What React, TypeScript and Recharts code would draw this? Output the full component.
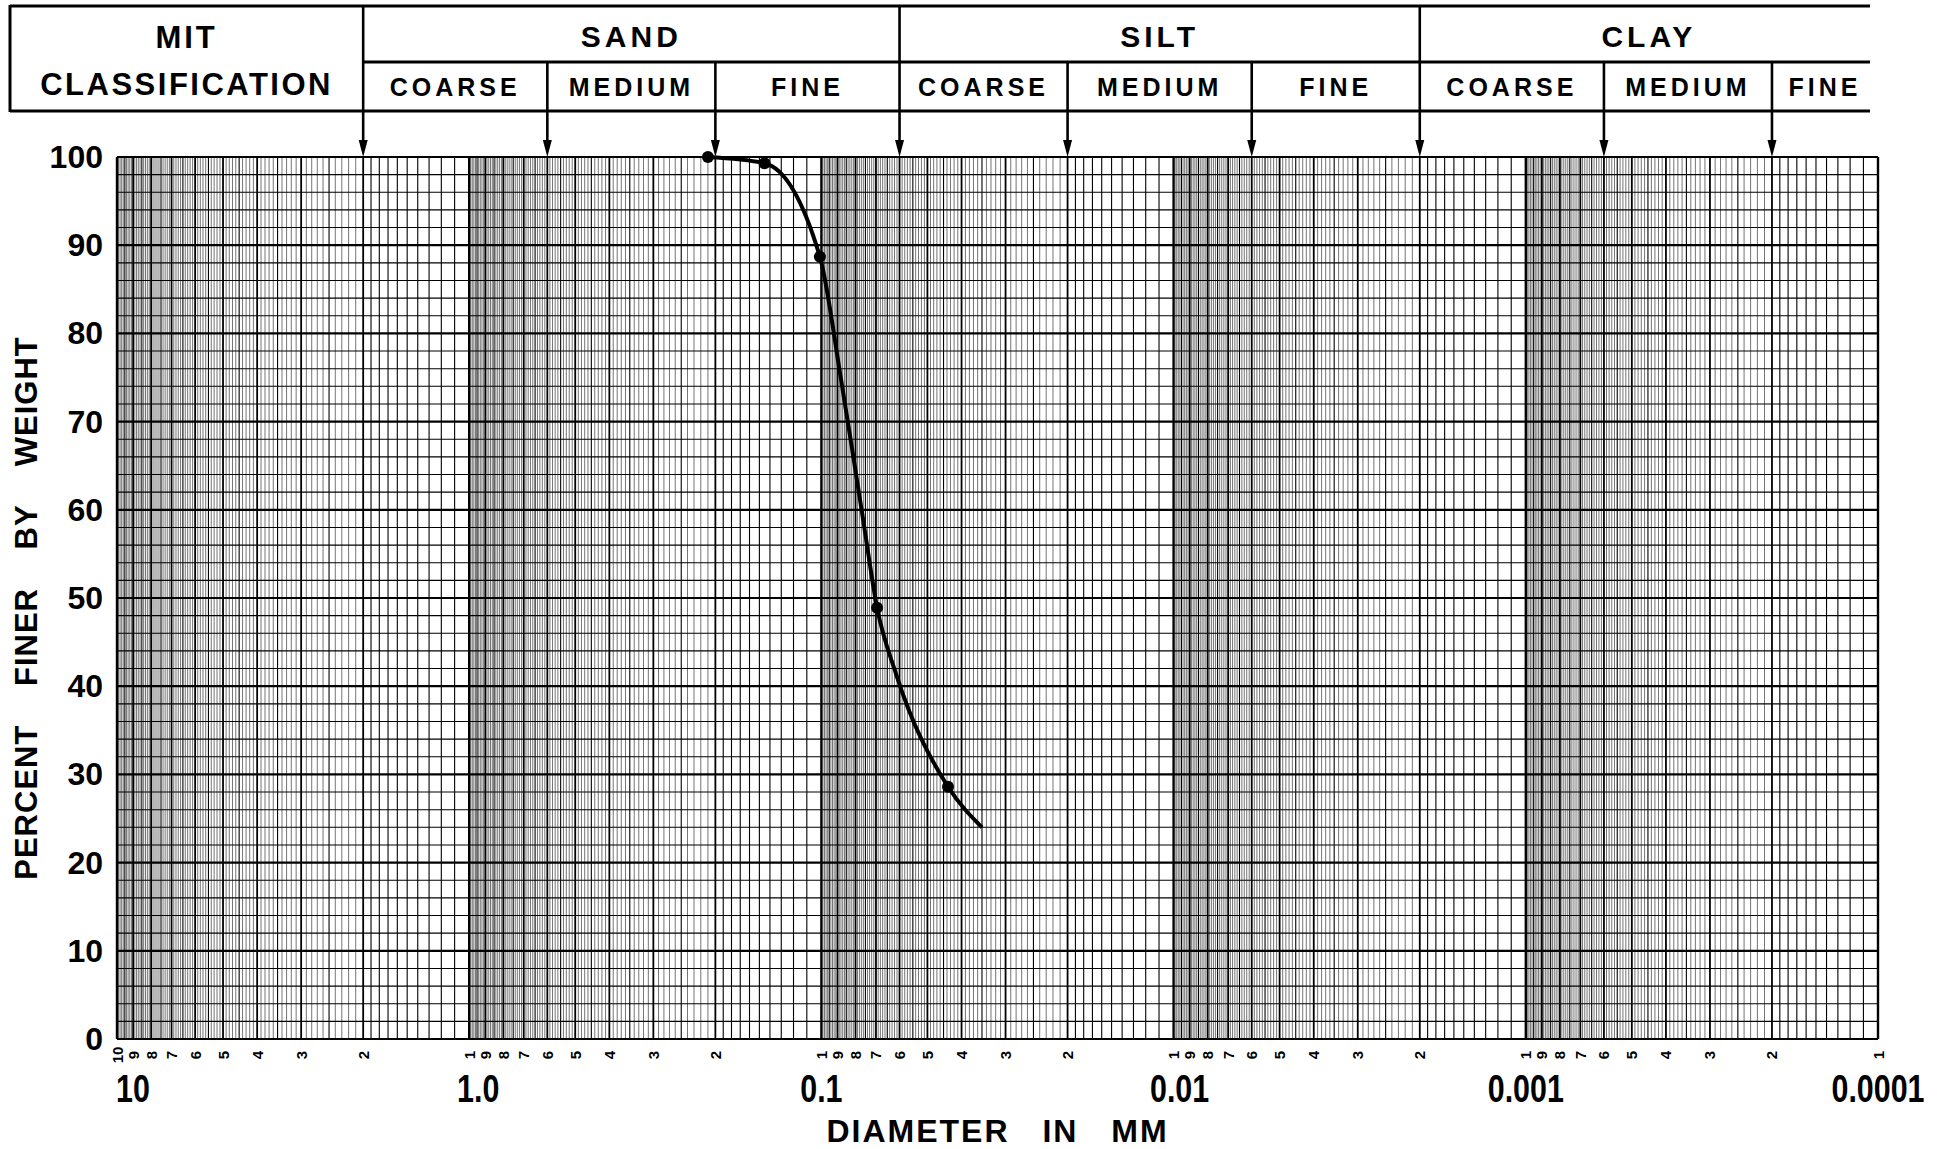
import React from "react";
import { LineChart, Line, XAxis, YAxis, ReferenceLine, ReferenceArea } from "recharts";

// grain size curve: diameter (mm) vs percent finer
const diameters = [0.21, 0.145, 0.101, 0.0886, 0.0813, 0.0762, 0.0695, 0.0614, 0.0437, 0.035];
const percentFiner = [100, 99.3, 88.7, 75.6, 66.2, 59.0, 48.9, 41.4, 28.6, 24.0];
// which readings are plotted sample points (drawn as dots)
const sampleMarks = [true, true, true, false, false, false, true, false, true, false];

const decades = [10, 1, 0.1, 0.01, 0.001, 0.0001];
const decadeLabels = ["10", "1.0", "0.1", "0.01", "0.001", "0.0001"];
const cycleDigits = [9, 8, 7, 6, 5, 4, 3, 2];
const percentTicks = [0, 10, 20, 30, 40, 50, 60, 70, 80, 90, 100];

// MIT classification boundaries (mm)
const soilNames = ["SAND", "SILT", "CLAY"];
const soilEdges = [2, 0.06, 0.002, 0.0001];
const gradeNames = ["COARSE", "MEDIUM", "FINE"];
const gradeEdges = [2, 0.6, 0.2, 0.06, 0.02, 0.006, 0.002, 0.0006, 0.0002, 0.0001];
const majorBounds = [2, 0.06, 0.002];
const minorBounds = [0.6, 0.2, 0.02, 0.006, 0.0006, 0.0002];

const FONT = "'Liberation Sans', Arial, sans-serif";
// hand lettering sits a little off-centre on the first decades
const decadeLabelShift = [16, 9, 0, 6, 0, 0];

const data = diameters.map((d, i) => ({ d, p: percentFiner[i] }));

// tick positions along the bottom: each decade plus its 9..2 subdivisions
const xTicks: number[] = [];
const xTickText: string[] = [];
const xTickDecade: number[] = [];
decades.forEach((dec, di) => {
  xTicks.push(dec);
  xTickText.push(dec === 10 ? "10" : "1");
  xTickDecade.push(di);
  if (di < decades.length - 1) {
    cycleDigits.forEach((m) => {
      xTicks.push((m * dec) / 10);
      xTickText.push(String(m));
      xTickDecade.push(-1);
    });
  }
});

// log paper ruling
type Rule = { v: number; w: number; c: string };
const vRules: Rule[] = [];
decades.slice(1).forEach((base) => {
  for (let j = 10; j < 100; j++) {
    const v = (j * base) / 10;
    let w = 0.7;
    let c = "#3a3a3a";
    if (j === 10) { w = 2.4; c = "#000"; }
    else if (j % 10 === 0) { w = 1.8; c = "#000"; }
    else if (j < 20 || j % 5 === 0) { w = 1.1; c = "#000"; }
    vRules.push({ v, w, c });
  }
});
vRules.push({ v: 10, w: 2.4, c: "#000" });

const hRules: Rule[] = [];
for (let p = 0; p <= 100; p += 2) {
  hRules.push({ v: p, w: p % 10 === 0 ? 2.2 : 1.1, c: "#000" });
}

function findTick(v: number) {
  return xTicks.findIndex((t) => Math.abs(t - v) / t < 1e-6);
}

function XTick(props: any) {
  const { x, y, payload } = props;
  const i = findTick(payload.value);
  if (i < 0) return null;
  const sy = y + 16;
  const di = xTickDecade[i];
  return (
    <g>
      <text
        x={x}
        y={sy}
        transform={`rotate(-90 ${x} ${sy})`}
        textAnchor="middle"
        dominantBaseline="central"
        fontSize={15}
        fontWeight="bold"
        fontFamily={FONT}
        fill="#000"
      >
        {xTickText[i]}
      </text>
      {di >= 0 && (
        <text
          transform={`translate(${x + decadeLabelShift[di]} ${y + 49}) scale(0.78 1)`}
          textAnchor="middle"
          dominantBaseline="central"
          fontSize={39}
          fontWeight="bold"
          fontFamily={FONT}
          fill="#000"
        >
          {decadeLabels[di]}
        </text>
      )}
    </g>
  );
}

function YTick(props: any) {
  const { x, y, payload } = props;
  return (
    <text
      x={x - 14}
      y={y}
      textAnchor="end"
      dominantBaseline="central"
      fontSize={32}
      fontWeight="bold"
      fontFamily={FONT}
      fill="#000"
    >
      {payload.value}
    </text>
  );
}

function YTitle(props: any) {
  const vb = props.viewBox || {};
  const cy = vb.height ? vb.y + vb.height / 2 + 10 : 608;
  return (
    <text
      x={26}
      y={cy}
      transform={`rotate(-90 26 ${cy})`}
      textAnchor="middle"
      dominantBaseline="central"
      fontSize={31}
      fontWeight="bold"
      fontFamily={FONT}
      letterSpacing={1}
      wordSpacing={29}
      fill="#000"
    >
      PERCENT FINER BY WEIGHT
    </text>
  );
}

function XTitle(props: any) {
  const vb = props.viewBox || {};
  const cx = vb.width ? vb.x + vb.width / 2 : 997;
  const cy = vb.height !== undefined ? vb.y + 92 : 1131;
  return (
    <text
      x={cx}
      y={cy}
      textAnchor="middle"
      dominantBaseline="central"
      fontSize={32}
      fontWeight="bold"
      fontFamily={FONT}
      letterSpacing={2}
      wordSpacing={22}
      fill="#000"
    >
      DIAMETER IN MM
    </text>
  );
}

const renderDot = (props: any) => {
  const { cx, cy, index } = props;
  if (!sampleMarks[index]) return <g key={`dot-${index}`} />;
  return <circle key={`dot-${index}`} cx={cx} cy={cy} r={6} fill="#000" />;
};

// boundary arrow coming down from the classification table
const boundaryShape = (major: boolean) => (props: any) => {
  const x = props.x1;
  const top = Math.min(props.y1, props.y2);
  const start = major ? top - 151 : top - 95;
  return (
    <g>
      <line x1={x} x2={x} y1={start} y2={top - 12} stroke="#000" strokeWidth={2.6} />
      <polygon points={`${x - 4.5},${top - 17} ${x + 4.5},${top - 17} ${x},${top}`} fill="#000" />
    </g>
  );
};

const headerFrame = (props: any) => {
  const { x, y, width } = props;
  const right = x + width - 8;
  const mid = (10 + x) / 2;
  return (
    <g stroke="#000" strokeWidth={3}>
      <line x1={10} x2={right} y1={y - 151} y2={y - 151} />
      <line x1={x} x2={right} y1={y - 95} y2={y - 95} />
      <line x1={10} x2={right} y1={y - 46} y2={y - 46} />
      <line x1={10} x2={10} y1={y - 152} y2={y - 45} />
      <text x={mid} y={y - 120} stroke="none" fill="#000" textAnchor="middle" dominantBaseline="central"
        fontSize={31} fontWeight="bold" fontFamily={FONT} letterSpacing={3}>
        MIT
      </text>
      <text x={mid} y={y - 73} stroke="none" fill="#000" textAnchor="middle" dominantBaseline="central"
        fontSize={31} fontWeight="bold" fontFamily={FONT} letterSpacing={2.5}>
        CLASSIFICATION
      </text>
    </g>
  );
};

const cellText = (label: string, dy: number, size: number, spacing: number) => (props: any) => {
  const { x, y, width } = props;
  return (
    <text x={x + width / 2} y={y + dy} textAnchor="middle" dominantBaseline="central"
      fontSize={size} fontWeight="bold" fontFamily={FONT} letterSpacing={spacing} fill="#000">
      {label}
    </text>
  );
};

export default function App() {
  return (
    <div style={{ position: "absolute", left: 0, top: 0, width: 1957, height: 1149, background: "#fff", fontFamily: FONT }}>
      <LineChart width={1957} height={1149} data={data} margin={{ top: 157, right: 79, bottom: 10, left: 17 }}>
        <XAxis
          dataKey="d"
          type="number"
          scale="log"
          domain={[0.0001, 10]}
          reversed
          allowDataOverflow
          ticks={xTicks}
          interval={0}
          tickSize={0}
          tickMargin={0}
          axisLine={false}
          tickLine={false}
          height={100}
          tick={<XTick />}
          label={<XTitle />}
        />
        <YAxis
          type="number"
          domain={[0, 100]}
          ticks={percentTicks}
          interval={0}
          tickSize={0}
          tickMargin={0}
          axisLine={false}
          tickLine={false}
          width={100}
          tick={<YTick />}
          label={<YTitle />}
        />
        {vRules.map((r, i) => (
          <ReferenceLine key={`v${i}`} x={r.v} stroke={r.c} strokeWidth={r.w} ifOverflow="visible" />
        ))}
        {hRules.map((r, i) => (
          <ReferenceLine key={`h${i}`} y={r.v} stroke={r.c} strokeWidth={r.w} ifOverflow="visible" />
        ))}
        <ReferenceArea x1={2} x2={0.0001} ifOverflow="visible" shape={headerFrame} />
        {soilNames.map((name, i) => (
          <ReferenceArea key={`s${i}`} x1={soilEdges[i]} x2={soilEdges[i + 1]} ifOverflow="visible"
            shape={cellText(name, -121, 30, 4)} />
        ))}
        {gradeEdges.slice(0, -1).map((edge, i) => (
          <ReferenceArea key={`g${i}`} x1={edge} x2={gradeEdges[i + 1]} ifOverflow="visible"
            shape={cellText(gradeNames[i % 3], -70, 25, 4)} />
        ))}
        {majorBounds.map((b) => (
          <ReferenceLine key={`mb${b}`} x={b} ifOverflow="visible" shape={boundaryShape(true)} />
        ))}
        {minorBounds.map((b) => (
          <ReferenceLine key={`nb${b}`} x={b} ifOverflow="visible" shape={boundaryShape(false)} />
        ))}
        <Line
          type="monotone"
          dataKey="p"
          stroke="#000"
          strokeWidth={4}
          dot={renderDot}
          activeDot={false}
          isAnimationActive={false}
        />
      </LineChart>
    </div>
  );
}
